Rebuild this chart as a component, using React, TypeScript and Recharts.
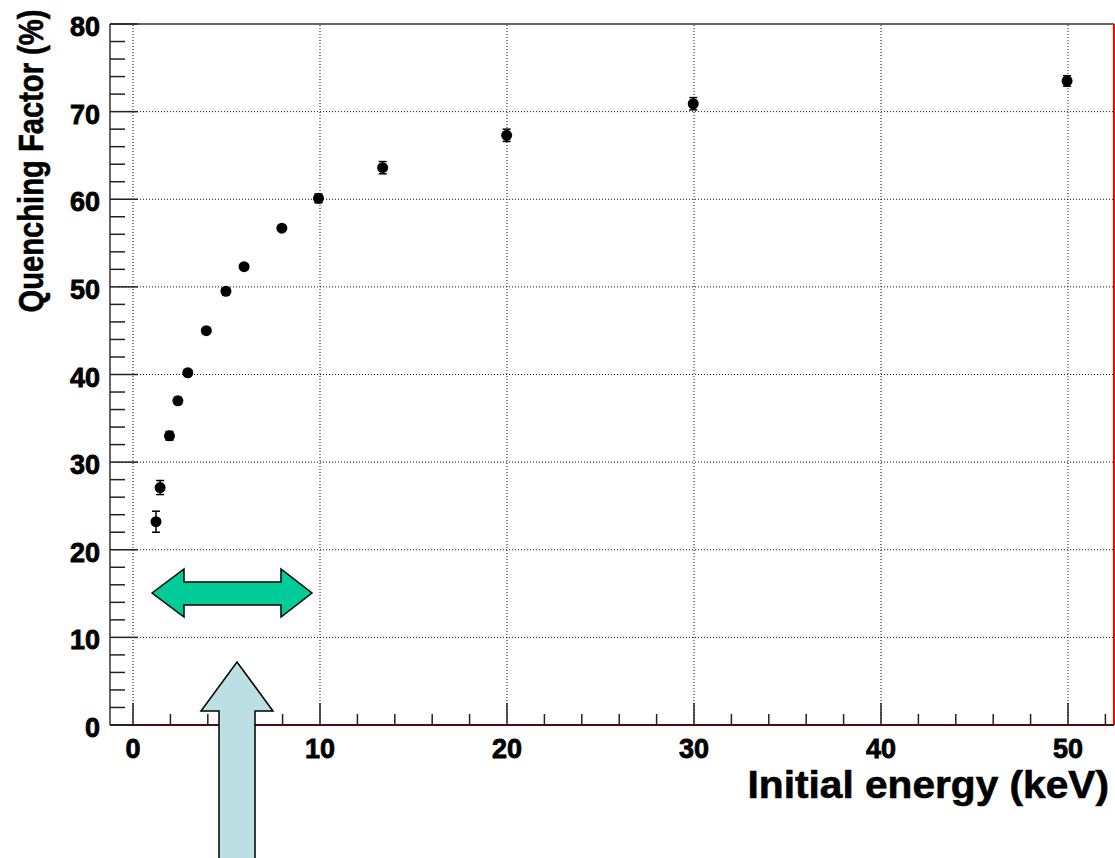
import React from 'react';
import { ScatterChart, Scatter, XAxis, YAxis, ReferenceLine, ErrorBar } from 'recharts';

// measured quenching factor vs initial recoil energy
const energies = [1.23, 1.45, 1.95, 2.4, 2.93, 3.92, 4.97, 5.94, 7.96, 9.92, 13.35, 19.98, 29.96, 49.95];
const quenching = [23.2, 27.1, 33.0, 37.0, 40.2, 45.0, 49.5, 52.3, 56.7, 60.1, 63.6, 67.3, 70.9, 73.5];
const errors = [1.2, 0.8, 0.5, 0.4, 0.3, 0.3, 0.3, 0.3, 0.3, 0.5, 0.7, 0.7, 0.7, 0.6];

const xTicks = [0, 2, 4, 6, 8, 10, 12, 14, 16, 18, 20, 22, 24, 26, 28, 30, 32, 34, 36, 38, 40, 42, 44, 46, 48, 50, 52];
const yTicks = [0, 2, 4, 6, 8, 10, 12, 14, 16, 18, 20, 22, 24, 26, 28, 30, 32, 34, 36, 38, 40, 42, 44, 46, 48, 50, 52, 54, 56, 58, 60, 62, 64, 66, 68, 70, 72, 74, 76, 78, 80];
const gridX = [0, 10, 20, 30, 40, 50];
const gridY = [10, 20, 30, 40, 50, 60, 70];

const X_DOMAIN: [number, number] = [-1.23, 52.46];
const Y_DOMAIN: [number, number] = [0, 80];

const FONT = '"Liberation Sans", Arial, Helvetica, sans-serif';

const data = energies.map((e, i) => ({ energy: e, qf: quenching[i], err: errors[i] }));

const YTick = (props: any) => {
  const { x, y, payload } = props;
  const major = payload.value % 10 === 0;
  return (
    <g>
      <line x1={x} x2={x + (major ? 28 : 15)} y1={y} y2={y} stroke="#222" strokeWidth={1.5} />
      {major && (
        <text x={x - 10} y={y + 12} textAnchor="end" fontFamily={FONT} fontWeight="bold" fontSize={27}
          fill="#000" stroke="#000" strokeWidth={0.8}>
          {payload.value}
        </text>
      )}
    </g>
  );
};

const XTick = (props: any) => {
  const { x, y, payload } = props;
  const major = payload.value % 10 === 0;
  return (
    <g>
      <line x1={x} x2={x} y1={y} y2={y - (major ? 22 : 11)} stroke="#222" strokeWidth={1.5} />
      {major && (
        <text x={x} y={y + 33} textAnchor="middle" fontFamily={FONT} fontWeight="bold" fontSize={27}
          fill="#000" stroke="#000" strokeWidth={0.8}>
          {payload.value}
        </text>
      )}
    </g>
  );
};

const Dot = (props: any) => <circle cx={props.cx} cy={props.cy} r={5.5} fill="#000" />;

// ROOT's title font is a little wider / narrower than Liberation, so scale along the text direction
const XTitle = () => (
  <text transform="translate(1109, 798) scale(1.07, 1)" x={0} y={0} textAnchor="end" fontFamily={FONT}
    fontWeight="bold" fontSize={38} fill="#000" stroke="#000" strokeWidth={0.6}>
    Initial energy (keV)
  </text>
);

const YTitle = () => (
  <text
    transform="translate(43, 161) rotate(-90) scale(0.81, 1)"
    x={0}
    y={0}
    textAnchor="middle"
    fontFamily={FONT}
    fontWeight="bold"
    fontSize={36}
    fill="#000"
    stroke="#000"
    strokeWidth={0.6}
  >
    Quenching Factor (%)
  </text>
);

export default function App() {
  return (
    <div style={{ position: 'absolute', left: 0, top: 0, width: 1115, height: 858, background: '#fff', overflow: 'hidden' }}>
      <ScatterChart width={1115} height={858} margin={{ top: 0, right: 0, bottom: 0, left: 0 }}>
        <XAxis
          type="number"
          dataKey="energy"
          domain={X_DOMAIN}
          allowDataOverflow
          ticks={xTicks}
          interval={0}
          height={133}
          tickSize={0}
          tickMargin={0}
          tickLine={false}
          tick={<XTick />}
          axisLine={{ stroke: '#111', strokeWidth: 1.5 }}
          label={<XTitle />}
        />
        <XAxis
          xAxisId="top"
          orientation="top"
          type="number"
          domain={X_DOMAIN}
          allowDataOverflow
          height={24}
          tick={false}
          tickLine={false}
          axisLine={{ stroke: '#333', strokeWidth: 1.5 }}
        />
        <YAxis
          type="number"
          dataKey="qf"
          domain={Y_DOMAIN}
          allowDataOverflow
          ticks={yTicks}
          interval={0}
          width={110}
          tickSize={0}
          tickMargin={0}
          tickLine={false}
          tick={<YTick />}
          axisLine={{ stroke: '#333', strokeWidth: 1.5 }}
          label={<YTitle />}
        />
        <YAxis
          yAxisId="right"
          orientation="right"
          type="number"
          domain={Y_DOMAIN}
          allowDataOverflow
          width={1}
          tick={false}
          tickLine={false}
          axisLine={{ stroke: '#ff0000', strokeWidth: 2 }}
        />

        {gridX.map((v) => (
          <ReferenceLine key={'gx' + v} x={v} stroke="#111" strokeWidth={1} strokeDasharray="1 2" />
        ))}
        {gridY.map((v) => (
          <ReferenceLine key={'gy' + v} y={v} stroke="#111" strokeWidth={1} strokeDasharray="1 2" />
        ))}
        <ReferenceLine y={0} stroke="#ff0000" strokeWidth={2} />

        <Scatter data={data} isAnimationActive={false} shape={<Dot />}>
          <ErrorBar dataKey="err" direction="y" width={4} stroke="#000" strokeWidth={1.5} isAnimationActive={false} />
        </Scatter>
      </ScatterChart>

      {/* slide annotations drawn over the plot */}
      <svg width={1115} height={858} style={{ position: 'absolute', left: 0, top: 0, pointerEvents: 'none' }}>
        <polygon
          points="152,593 184,569 184,582 281,582 281,569 312,593 281,617 281,605 184,605 184,617"
          fill="#00CC99"
          stroke="#000"
          strokeWidth={1.5}
          strokeLinejoin="miter"
        />
        <polygon
          points="237,662 273,711 255,711 255,862 219,862 219,711 201,711"
          fill="#BCDFE3"
          stroke="#000"
          strokeWidth={1.5}
        />
      </svg>
    </div>
  );
}
